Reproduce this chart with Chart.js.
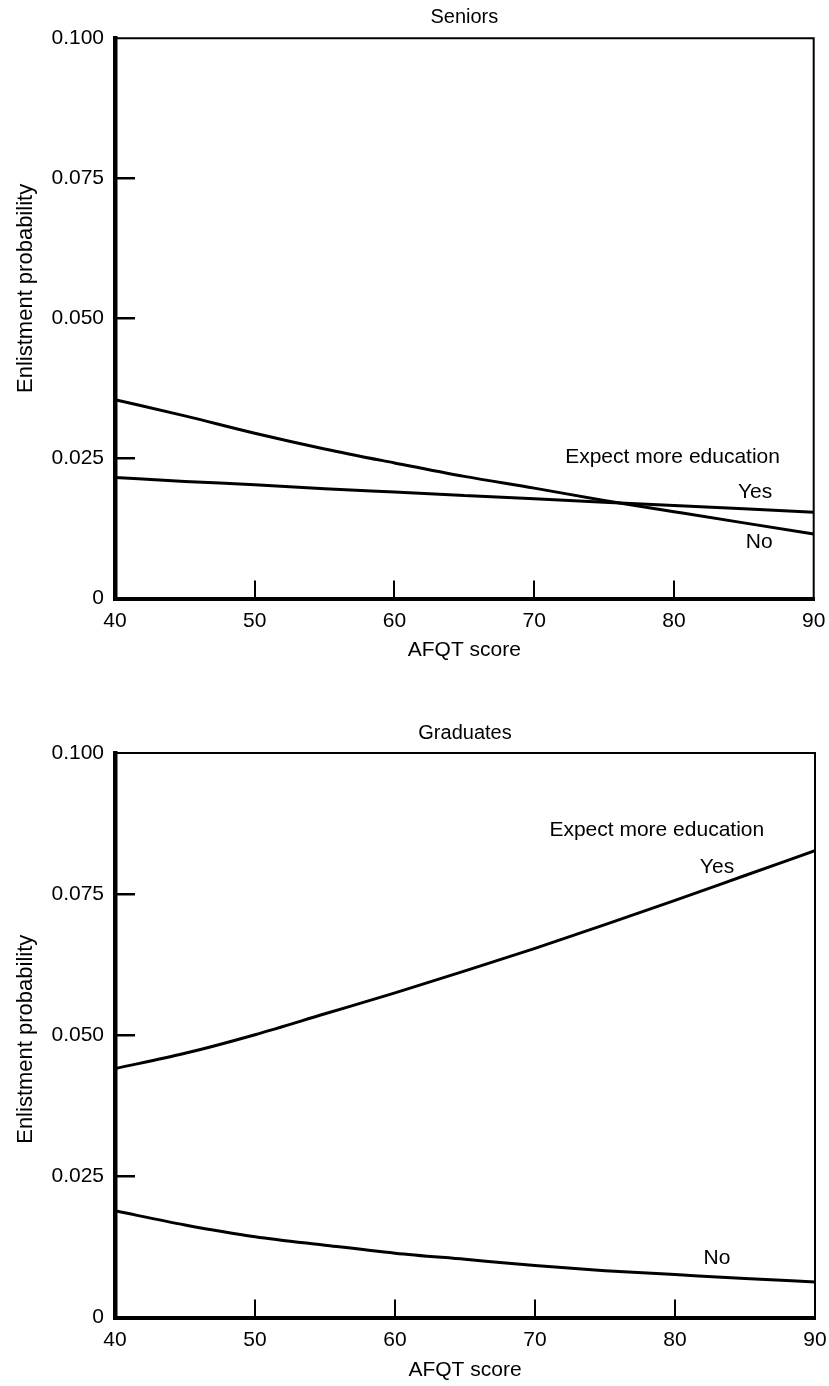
<!DOCTYPE html>
<html>
<head>
<meta charset="utf-8">
<script src="https://cdn.jsdelivr.net/npm/chart.js@4.4.1/dist/chart.umd.min.js"></script>
<style>
  html, body { margin: 0; padding: 0; background: #fff; }
  canvas { display: block; }
</style>
</head>
<body>
<canvas id="c1" width="829" height="693"></canvas>
<canvas id="c2" width="829" height="693"></canvas>
<script>
// ---- data ----
const afqtScores = [40, 45, 50, 55, 60, 65, 70, 75, 80, 85, 90];
const seniorsYes = [0.0216, 0.0209, 0.0203, 0.0196, 0.0190, 0.0184, 0.0178, 0.0172, 0.0166, 0.0160, 0.0154];
const seniorsNo  = [0.0355, 0.0326, 0.0295, 0.0267, 0.0242, 0.0218, 0.0197, 0.0175, 0.0155, 0.0135, 0.0115];
const gradYes    = [0.0441, 0.0468, 0.0501, 0.0538, 0.0575, 0.0614, 0.0654, 0.0696, 0.0739, 0.0783, 0.0827];
const gradNo     = [0.0189, 0.0164, 0.0143, 0.0128, 0.0114, 0.0103, 0.0092, 0.0083, 0.0076, 0.0069, 0.0063];
const xTickLabels = ['40', '50', '60', '70', '80', '90'];
const yTickLabels = ['0', '0.025', '0.050', '0.075', '0.100'];
const panelTitles = ['Seniors', 'Graduates'];
const seriesNames = ['Yes', 'No'];
const legendTitle = 'Expect more education';
const xAxisTitle = 'AFQT score';
const yAxisTitle = 'Enlistment probability';

const FONT = "'Liberation Sans', Arial, Helvetica, sans-serif";

const toPoints = vals => afqtScores.map((x, i) => ({ x, y: vals[i] }));

const framePlugin = {
  id: 'frameAndText',
  afterDraw(chart, args, opts) {
    const { ctx, chartArea: a, scales } = chart;
    ctx.save();
    // top and right frame
    ctx.strokeStyle = '#000';
    ctx.lineWidth = 2;
    ctx.beginPath();
    ctx.moveTo(a.left, a.top);
    ctx.lineTo(a.right, a.top);
    ctx.lineTo(a.right, a.bottom);
    ctx.stroke();
    // y axis title
    ctx.fillStyle = '#000';
    ctx.font = "22px " + FONT;
    ctx.textAlign = 'center';
    ctx.textBaseline = 'middle';
    ctx.save();
    ctx.translate(opts.yTitleX, (a.top + a.bottom) / 2 + opts.yTitleShift);
    ctx.rotate(-Math.PI / 2);
    ctx.fillText(yAxisTitle, 0, 0);
    ctx.restore();
    // annotations
    ctx.font = "21px " + FONT;
    for (const n of opts.notes) {
      ctx.fillText(n.text, scales.x.getPixelForValue(n.x), scales.y.getPixelForValue(n.y));
    }
    ctx.restore();
  }
};

function makeChart(id, title, yesVals, noVals, lay) {
  return new Chart(document.getElementById(id), {
    type: 'line',
    data: {
      datasets: [
        { label: seriesNames[0], data: toPoints(yesVals) },
        { label: seriesNames[1], data: toPoints(noVals) }
      ]
    },
    options: {
      responsive: false,
      animation: false,
      devicePixelRatio: 1,
      layout: { padding: { top: 0, left: 0, bottom: 0, right: lay.padRight } },
      elements: {
        line: { borderColor: '#000', borderWidth: 3, cubicInterpolationMode: 'monotone', fill: false },
        point: { radius: 0, hoverRadius: 0 }
      },
      plugins: {
        legend: { display: false },
        tooltip: { enabled: false },
        title: {
          display: true, text: title, fullSize: false, color: '#000',
          font: { family: FONT, size: 20, weight: 'normal' },
          padding: { top: lay.titleTop, bottom: lay.titleBottom }
        },
        frameAndText: {
          yTitleX: 25.5,
          yTitleShift: lay.yTitleShift,
          notes: lay.notes
        }
      },
      scales: {
        x: {
          type: 'linear', min: 40, max: 90,
          afterFit: s => { s.height = lay.xAxisHeight; s.paddingLeft = 0; s.paddingRight = 0; },
          ticks: {
            stepSize: 10, color: '#000', padding: 28, maxRotation: 0,
            font: { family: FONT, size: 21 },
            callback: (v, i) => xTickLabels[i]
          },
          grid: {
            drawOnChartArea: false, drawTicks: true, tickLength: -18,
            lineWidth: 2, color: ctx => (ctx.index === 0 || ctx.index === 5) ? 'rgba(0,0,0,0)' : '#000'
          },
          border: { display: true, color: '#000', width: 4 },
          title: {
            display: true, text: xAxisTitle, color: '#000',
            font: { family: FONT, size: 21 },
            padding: { top: 0, bottom: lay.xTitleBottom }
          }
        },
        y: {
          type: 'linear', min: 0, max: 0.1,
          afterFit: s => { s.width = 115; s.paddingTop = 0; s.paddingBottom = 0; },
          ticks: {
            stepSize: 0.025, color: '#000', padding: 31,
            font: { family: FONT, size: 21 },
            callback: (v, i) => yTickLabels[i]
          },
          grid: {
            drawOnChartArea: false, drawTicks: true, tickLength: -20,
            lineWidth: 2.5, color: ctx => (ctx.index === 0 || ctx.index === 4) ? 'rgba(0,0,0,0)' : '#000'
          },
          border: { display: true, color: '#000', width: 4.5 }
        }
      }
    },
    plugins: [framePlugin]
  });
}

makeChart('c1', panelTitles[0], seniorsYes, seniorsNo, {
  padRight: 15.3, titleTop: 5, titleBottom: 9.3, xAxisHeight: 94.5, xTitleBottom: 30.4,
  yTitleShift: -30,
  notes: [
    { text: legendTitle, x: 79.9, y: 0.0252 },
    { text: seriesNames[0], x: 85.8, y: 0.0189 },
    { text: seriesNames[1], x: 86.1, y: 0.0100 }
  ]
});

makeChart('c2', panelTitles[1], gradYes, gradNo, {
  padRight: 14, titleTop: 28, titleBottom: 8, xAxisHeight: 68.5, xTitleBottom: 3.4,
  yTitleShift: 4,
  notes: [
    { text: legendTitle, x: 78.7, y: 0.0863 },
    { text: seriesNames[0], x: 83.0, y: 0.0798 },
    { text: seriesNames[1], x: 83.0, y: 0.0105 }
  ]
});
</script>
</body>
</html>
